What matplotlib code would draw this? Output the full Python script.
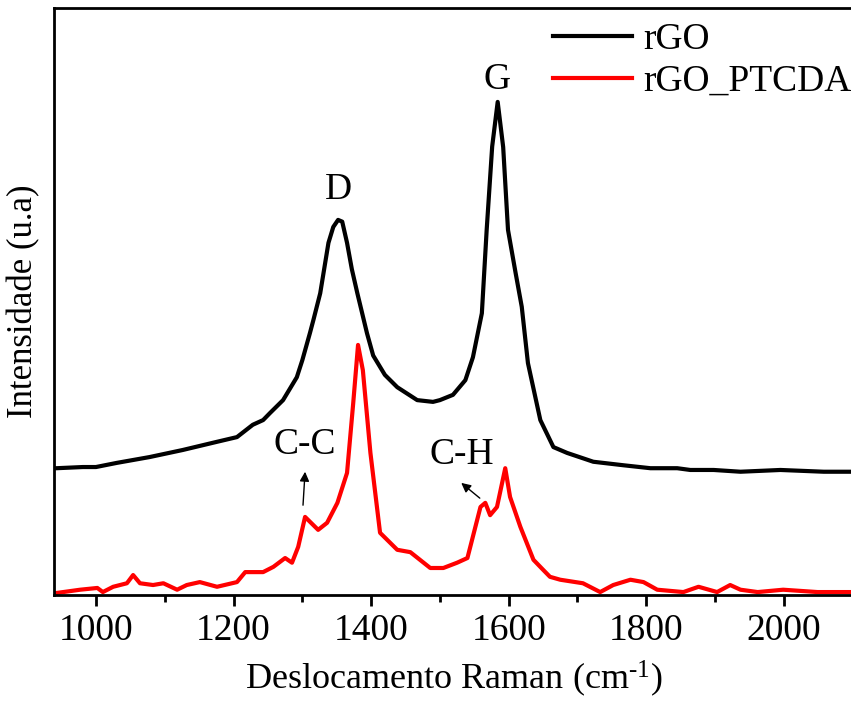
import matplotlib
matplotlib.use("Agg")
import matplotlib.pyplot as plt
from matplotlib.ticker import MultipleLocator

plt.rcParams['font.family'] = ['Liberation Serif', 'DejaVu Serif']
plt.rcParams['mathtext.fontset'] = 'custom'
plt.rcParams['mathtext.rm'] = 'Liberation Serif'
plt.rcParams['mathtext.it'] = 'Liberation Serif:italic'

# Raman shift (cm^-1) and intensity (arb. units) for rGO
rgo_shift = [939, 943, 981, 1000, 1030, 1078, 1126, 1176, 1205, 1228, 1243,
             1253, 1272, 1292, 1300, 1311, 1316, 1326, 1338, 1345, 1352, 1358,
             1365, 1372, 1380, 1394, 1403, 1420, 1438, 1467, 1490, 1500, 1519,
             1537, 1548, 1561, 1568, 1576, 1584, 1592, 1599, 1610, 1619, 1628,
             1646, 1665, 1685, 1723, 1767, 1806, 1845, 1864, 1898, 1937, 1995,
             2058, 2098]
rgo_int = [21.6, 21.6, 21.8, 21.8, 22.5, 23.5, 24.7, 26.1, 26.9, 29.0, 29.8,
           31.0, 33.2, 37.1, 40.0, 44.6, 46.8, 51.4, 60.0, 62.7, 63.9, 63.6,
           60.0, 55.5, 51.4, 44.6, 40.8, 37.5, 35.4, 33.2, 32.9, 33.2, 34.1,
           36.6, 40.5, 48.0, 62.2, 76.4, 84.0, 76.3, 62.2, 54.9, 49.1, 39.5,
           29.8, 25.2, 24.2, 22.7, 22.1, 21.6, 21.6, 21.3, 21.3, 21.0, 21.3,
           21.0, 21.0]

# Raman shift (cm^-1) and intensity (arb. units) for rGO_PTCDA
ptcda_shift = [940, 977, 1002, 1010, 1025, 1045, 1054, 1064, 1083, 1098, 1118,
               1132, 1151, 1176, 1205, 1217, 1243, 1258, 1275, 1285, 1294, 1304,
               1323, 1336, 1351, 1365, 1374, 1381, 1388, 1399, 1413, 1438, 1457,
               1486, 1505, 1525, 1540, 1559, 1566, 1573, 1583, 1595, 1602, 1617,
               1636, 1650, 1660, 1675, 1708, 1733, 1752, 1777, 1796, 1816, 1854,
               1876, 1903, 1922, 1937, 1962, 1999, 2049, 2097]
ptcda_int = [0.3, 0.9, 1.2, 0.5, 1.4, 2.0, 3.4, 2.0, 1.7, 2.0, 0.9,
             1.7, 2.2, 1.4, 2.2, 3.9, 3.9, 4.8, 6.3, 5.5, 8.2, 13.3,
             11.1, 12.3, 15.7, 20.8, 32.7, 42.6, 38.3, 24.2, 10.6, 7.7, 7.3,
             4.6, 4.6, 5.5, 6.3, 15.0, 15.7, 13.6, 15.0, 21.6, 16.7, 11.6,
             6.0, 4.3, 3.1, 2.6, 2.0, 0.5, 1.7, 2.6, 2.2, 0.9, 0.5,
             1.4, 0.5, 1.7, 0.9, 0.5, 0.9, 0.5, 0.5]

series_labels = ["rGO", "rGO_PTCDA"]

fig = plt.figure(figsize=(8.51, 7.02), dpi=100)
ax = fig.add_axes([54 / 851, 107 / 702, 800 / 851, 587 / 702])

ax.plot(rgo_shift, rgo_int, color="black", lw=3, label=series_labels[0])
ax.plot(ptcda_shift, ptcda_int, color="red", lw=3, label=series_labels[1])

ax.set_xlim(939, 2102)
ax.set_ylim(0, 100)

ax.xaxis.set_major_locator(MultipleLocator(200))
ax.xaxis.set_minor_locator(MultipleLocator(100))
ax.tick_params(axis="x", which="major", direction="out", length=8, width=2,
               labelsize=27, pad=5)
ax.tick_params(axis="x", which="minor", direction="out", length=5, width=2)
ax.set_yticks([])
for s in ax.spines.values():
    s.set_linewidth(2)

ax.set_xlabel(r"Deslocamento Raman (cm$^{\text{-1}}$)", fontsize=26, labelpad=8)
ax.set_ylabel("Intensidade (u.a)", fontsize=25, labelpad=10)

# peak labels
ax.text(1352, 69.0, "D", fontsize=27, ha="center", va="center")
ax.text(1583, 87.7, "G", fontsize=27, ha="center", va="center")
ax.text(1304, 25.6, "C-C", fontsize=27, ha="center", va="center")
ax.text(1532, 23.9, "C-H", fontsize=27, ha="center", va="center")

ax.annotate("", xy=(1304, 21.0), xytext=(1301, 15.3),
            arrowprops=dict(arrowstyle="-|>", color="black", lw=1,
                            mutation_scale=14, shrinkA=0, shrinkB=0))
ax.annotate("", xy=(1531, 19.1), xytext=(1558, 16.5),
            arrowprops=dict(arrowstyle="-|>", color="black", lw=1,
                            mutation_scale=14, shrinkA=0, shrinkB=0))

leg = ax.legend(loc="upper left", bbox_to_anchor=(0.596, 1.014), frameon=False,
                fontsize=27, handlelength=2.1, handletextpad=0.3,
                labelspacing=0.2, borderaxespad=0.2)

fig.savefig("out.png", dpi=100)
